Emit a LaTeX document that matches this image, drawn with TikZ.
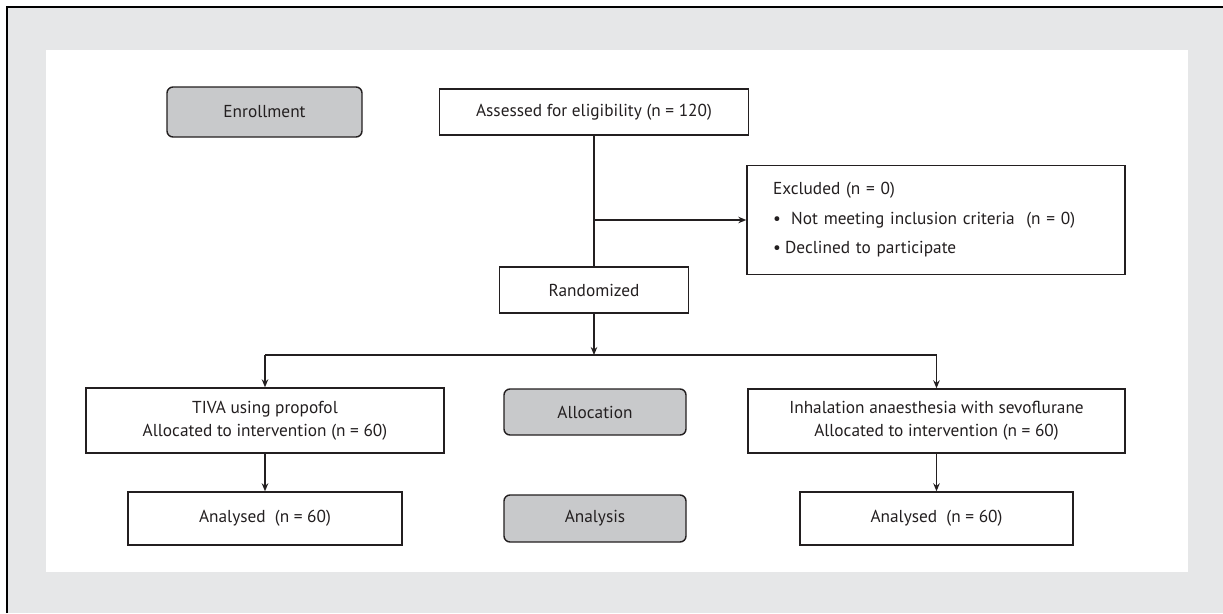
\documentclass[tikz,border=0pt]{standalone}
\usepackage{fontspec}
\setmainfont{PT Sans}
\usetikzlibrary{arrows.meta}

\definecolor{pagegrey}{HTML}{E6E7E8}
\definecolor{stagegrey}{HTML}{C8C9CB}
\definecolor{inkc}{HTML}{231F20}

\begin{document}
\begin{tikzpicture}[x=1pt, y=-1pt, >={Stealth[length=8pt,width=6.5pt]},
    box/.style={draw=inkc, line width=1.4pt, fill=white, text=inkc, font=\fontsize{17.3}{23}\selectfont, align=center, inner sep=0pt},
    stage/.style={box, fill=stagegrey, rounded corners=6pt},
    link/.style={draw=inkc, line width=1.4pt}]
        \useasboundingbox (0,0) rectangle (1223,613);

        % Background panel
        \fill[pagegrey] (7,7) rectangle (1223,613);
        \draw[line width=1.8pt] (7,613) -- (7,7) -- (1223,7);
        \fill[white] (46,50) rectangle (1188,572);

        % Stage labels
        \node[stage, minimum width=195pt, minimum height=50pt] (enroll) at (264.5,112) {Enrollment};
        \node[stage, minimum width=182pt, minimum height=46pt] (alloc) at (595,412) {Allocation};
        \node[stage, minimum width=182pt, minimum height=47pt] (analysis) at (595,518.5) {Analysis};

        % Boxes
        \node[box, minimum width=309pt, minimum height=46pt] (assess) at (594,112) {Assessed for eligibility (n = 120)};
        \node[box, minimum width=378pt, minimum height=109pt, text width=326pt, align=left,
              font=\fontsize{17.3}{29.5}\selectfont] (excl) at (936,220)
              {Excluded (n = 0)\\
               \textbullet\hspace{0.6em}Not meeting inclusion criteria~ (n = 0)\\
               \textbullet\hspace{0.25em}Declined to participate};
        \node[box, minimum width=189pt, minimum height=46pt] (rand) at (594,290) {Randomized};
        \node[box, minimum width=358pt, minimum height=65pt] (tiva) at (265,420.5) {TIVA using propofol\\Allocated to intervention (n = 60)};
        \node[box, minimum width=377pt, minimum height=64pt] (inhal) at (936.5,421) {Inhalation anaesthesia with sevoflurane\\Allocated to intervention (n = 60)};
        \node[box, minimum width=274pt, minimum height=53pt] (anl1) at (265,518.5) {Analysed~ (n = 60)};
        \node[box, minimum width=273pt, minimum height=53pt] (anl2) at (936.5,518.5) {Analysed~ (n = 60)};

        % Branch points
        \coordinate (Bx) at (rand.north |- excl.west);
        \coordinate (Split) at (594,355);
        \coordinate (SplitL) at (tiva.north |- Split);
        \coordinate (SplitR) at (inhal.north |- Split);

        % Connectors
        \draw[link] (assess.south) -- (rand.north);
        \draw[link, ->] (Bx) -- (excl.west);
        \draw[link, ->] (rand.south) -- (Split);
        \draw[link] (SplitL) -- (SplitR);
        \draw[link, ->] (SplitL) -- (tiva.north);
        \draw[link, ->] (SplitR) -- (inhal.north);
        \draw[link, ->] (tiva.south) -- (anl1.north);
        \draw[link, ->] (inhal.south) -- (anl2.north);
    \end{tikzpicture}
\end{document}
